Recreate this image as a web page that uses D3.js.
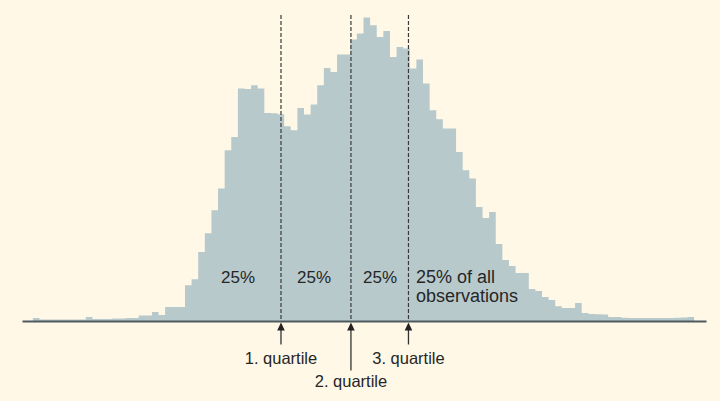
<!DOCTYPE html>
<html>
<head>
<meta charset="utf-8">
<script src="https://cdn.jsdelivr.net/npm/d3@7"></script>
<style>
  html, body { margin: 0; padding: 0; background: #fff8e7; }
  svg { display: block; }
  text { font-family: "Liberation Sans", Arial, sans-serif; fill: #262626; }
</style>
</head>
<body>
<svg id="chart" width="720" height="401"></svg>
<script>
// Histogram: 100 equal-width bins, relative frequency
const bins = d3.range(100);
const counts = [
  3, 1.5, 1.5, 1.5, 1.5, 1.5, 1.5, 1.5, 4, 2,
  2, 2, 2.5, 2.5, 3, 3, 5.5, 5.5, 9, 6,
  14, 14, 14, 35.7, 41.7, 69, 87.7, 110.7, 132.4, 170.7,
  184, 232.4, 232, 235.7, 232.4, 208, 207.7, 206.7, 194.7, 190.7,
  213, 206.4, 216.4, 235.7, 253, 249, 266.4, 266.4, 281.4, 287.4,
  303.4, 295.7, 284, 290, 264, 274, 272.4, 252.4, 261.4, 237.4,
  210.7, 201.7, 192.4, 192.4, 169, 150.7, 142.4, 114, 103, 109,
  77, 61, 55, 48, 48, 32, 30, 24, 21, 14.7,
  13, 13, 18, 8, 7, 6.7, 6.5, 4, 4, 3.3,
  3, 3, 3, 3, 3, 3, 3, 3.3, 3.5, 4
];
// Quartile positions (in bin units) and annotation labels
const quartiles = [37.52, 48.1, 56.8];
const quartileLabels = ["1. quartile", "2. quartile", "3. quartile"];
const shareLabels = ["25%", "25%", "25%", "25% of all", "observations"];

const svg = d3.select("#chart");
const W = 720, H = 401;
svg.append("rect").attr("width", W).attr("height", H).attr("fill", "#fff8e7");

const x = d3.scaleLinear().domain([-1.65, 101.8]).range([22, 706]);
const y = d3.scaleLinear().domain([0, 300]).range([321, 21]);

// histogram as stepped area
const pts = bins.map((b, i) => [b, counts[i]]);
pts.push([100, counts[counts.length - 1]]);
const area = d3.area()
  .x(d => x(d[0]))
  .y0(y(0))
  .y1(d => y(d[1]))
  .curve(d3.curveStepAfter);
svg.append("path").datum(pts).attr("d", area).attr("fill", "#b8c9cc");

// dashed quartile lines
svg.selectAll("line.q").data(quartiles).enter().append("line")
  .attr("class", "q")
  .attr("x1", d => x(d)).attr("x2", d => x(d))
  .attr("y1", 15).attr("y2", y(0))
  .attr("stroke", "#3a3a3a").attr("stroke-width", 1.2)
  .attr("stroke-dasharray", "4,2");

// baseline axis
const axis = d3.axisBottom(x).tickValues([]).tickSizeOuter(0);
const gAx = svg.append("g").attr("transform", `translate(0,${y(0)})`).call(axis);
gAx.select(".domain").attr("stroke", "#4d5a5e").attr("stroke-width", 2.2);

// arrows below axis
const arrowLen = [22, 48, 22];
quartiles.forEach((q, i) => {
  const cx = x(q), top = y(0) + 1.5;
  svg.append("line")
    .attr("x1", cx).attr("x2", cx)
    .attr("y1", top + 6).attr("y2", top + arrowLen[i])
    .attr("stroke", "#333").attr("stroke-width", 1.3);
  svg.append("path")
    .attr("d", `M${cx},${top} L${cx - 3.8},${top + 8} L${cx + 3.8},${top + 8} Z`)
    .attr("fill", "#222");
});

// quartile labels
const qLabelY = [364, 387, 364];
quartiles.forEach((q, i) => {
  svg.append("text")
    .attr("x", x(q)).attr("y", qLabelY[i])
    .attr("text-anchor", "middle")
    .attr("font-size", 16.5)
    .text(quartileLabels[i]);
});

// share labels
const sharePos = [[238, 283, "middle", 17], [314, 283, "middle", 17], [380, 283, "middle", 17],
                  [416, 283, "start", 18], [416, 302, "start", 18]];
shareLabels.forEach((t, i) => {
  svg.append("text")
    .attr("x", sharePos[i][0]).attr("y", sharePos[i][1])
    .attr("text-anchor", sharePos[i][2])
    .attr("font-size", sharePos[i][3])
    .text(t);
});
</script>
</body>
</html>
